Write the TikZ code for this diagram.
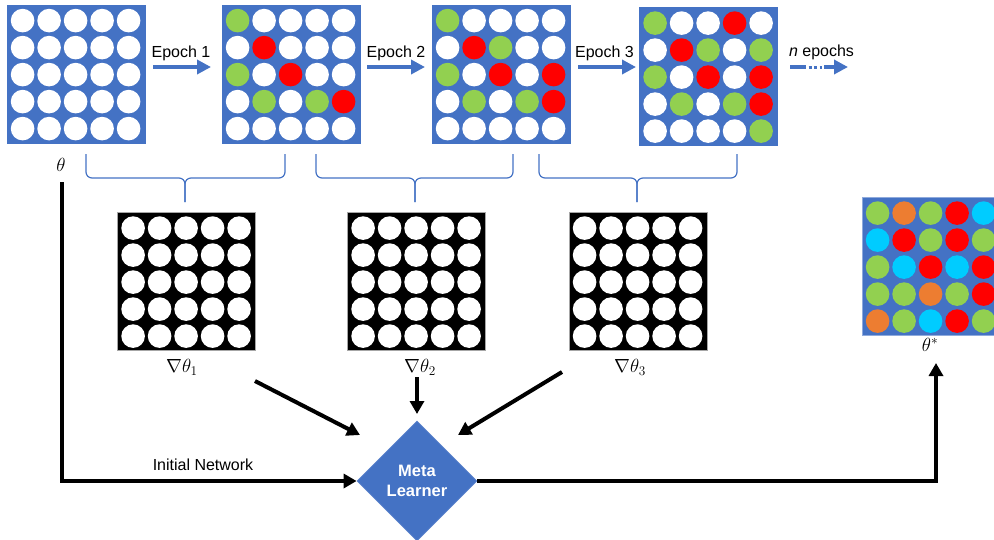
\documentclass[tikz,border=0pt]{standalone}
\usepackage{fix-cm}
\usepackage{fontspec}
\setmainfont{Liberation Sans}
\usetikzlibrary{shapes.geometric,arrows.meta,calc}
\definecolor{mblue}{HTML}{4472C4}
\definecolor{cW}{HTML}{FFFFFF}
\definecolor{cG}{HTML}{92D050}
\definecolor{cR}{HTML}{FF0000}
\definecolor{cC}{HTML}{00CCFF}
\definecolor{cO}{HTML}{ED7D31}
\definecolor{cK}{HTML}{000000}
\newcommand{\dotgrid}[5]{% name, position, background, border, 25 colours
  \node[gridbox,fill=#3,draw=#4] (#1) at #2 {};
  \foreach \cc [count=\i from 0] in {#5} {
    \pgfmathtruncatemacro\gcol{mod(\i,5)}
    \pgfmathtruncatemacro\grow{div(\i,5)}
    \fill[\cc] ($(#1.north west)+(16+26.5*\gcol,16+27*\grow)$) circle[radius=11.8pt];
  }
}
\begin{document}
\begin{tikzpicture}[x=1pt,y=-1pt,
  gridbox/.style={rectangle,minimum width=138pt,minimum height=138pt,inner sep=0pt,line width=0.8pt},
  epocharrow/.style={mblue,line width=4.5pt,-{Triangle[length=14pt,width=14pt]}},
  bigarrow/.style={black,line width=4pt,-{Triangle[length=13pt,width=14pt]}},
  bracestyle/.style={mblue,line width=1.2pt,rounded corners=6pt},
  lbl/.style={font=\fontsize{16}{19}\selectfont,inner sep=0pt},
  mathlbl/.style={font=\fontsize{19}{22}\selectfont,inner sep=0pt},
]
\useasboundingbox (0,0) rectangle (994,539);

% parameter grids
\dotgrid{p0}{(76,74)}{mblue}{mblue}{cW,cW,cW,cW,cW, cW,cW,cW,cW,cW, cW,cW,cW,cW,cW, cW,cW,cW,cW,cW, cW,cW,cW,cW,cW}
\dotgrid{p1}{(291,74)}{mblue}{mblue}{cG,cW,cW,cW,cW, cW,cR,cW,cW,cW, cG,cW,cR,cW,cW, cW,cG,cW,cG,cR, cW,cW,cW,cW,cW}
\dotgrid{p2}{(501,74)}{mblue}{mblue}{cG,cW,cW,cW,cW, cW,cR,cG,cW,cW, cG,cW,cR,cW,cR, cW,cG,cW,cG,cR, cW,cW,cW,cW,cW}
\dotgrid{p3}{(708.5,76.5)}{mblue}{mblue}{cG,cW,cW,cR,cW, cW,cR,cG,cW,cG, cG,cW,cR,cW,cR, cW,cG,cW,cG,cR, cW,cW,cW,cW,cG}

% gradient grids
\dotgrid{g1}{(186.5,281.5)}{cK}{gray!70}{cW,cW,cW,cW,cW, cW,cW,cW,cW,cW, cW,cW,cW,cW,cW, cW,cW,cW,cW,cW, cW,cW,cW,cW,cW}
\dotgrid{g2}{(416.5,281.5)}{cK}{gray!70}{cW,cW,cW,cW,cW, cW,cW,cW,cW,cW, cW,cW,cW,cW,cW, cW,cW,cW,cW,cW, cW,cW,cW,cW,cW}
\dotgrid{g3}{(638,281.5)}{cK}{gray!70}{cW,cW,cW,cW,cW, cW,cW,cW,cW,cW, cW,cW,cW,cW,cW, cW,cW,cW,cW,cW, cW,cW,cW,cW,cW}

% final grid
\dotgrid{pf}{(931,266.5)}{mblue}{mblue!60!white}{cG,cO,cG,cR,cC, cC,cR,cG,cR,cG, cG,cC,cR,cC,cR, cG,cG,cO,cG,cR, cO,cG,cC,cR,cG}

% epoch labels
\node[lbl,anchor=base] (e1) at (181,57) {Epoch 1};
\node[lbl,anchor=base] (e2) at (396,57) {Epoch 2};
\node[lbl,anchor=base] (e3) at (604.5,57) {Epoch 3};
\node[lbl,anchor=base] (en) at (821.5,56) {\textit{n} epochs};

% epoch arrows
\coordinate (a1s) at (153,67); \coordinate (a1e) at (211,67);
\coordinate (a2s) at (367,67); \coordinate (a2e) at (425,67);
\coordinate (a3s) at (578,67); \coordinate (a3e) at (636,67);
\draw[epocharrow] (a1s) -- (a1e);
\draw[epocharrow] (a2s) -- (a2e);
\draw[epocharrow] (a3s) -- (a3e);
\coordinate (n1) at (790,67); \coordinate (n2) at (806,67);
\coordinate (n3) at (808.5,67); \coordinate (n4) at (822,67);
\coordinate (n5) at (824,67); \coordinate (n6) at (848,67);
\draw[mblue,line width=4.5pt] (n1) -- (n2);
\draw[mblue,line width=3pt,dash pattern=on 3pt off 2.5pt] (n3) -- (n4);
\draw[epocharrow] (n5) -- (n6);

% braces
\draw[bracestyle] (86,154) -- (86,178) -- (185,178) -- (185,202);
\draw[bracestyle] (285,154) -- (285,178) -- (185,178) -- (185,202);
\draw[bracestyle] (316,154) -- (316,178) -- (415,178) -- (415,202);
\draw[bracestyle] (513,154) -- (513,178) -- (415,178) -- (415,202);
\draw[bracestyle] (539,154) -- (539,178) -- (637,178) -- (637,202);
\draw[bracestyle] (737,154) -- (737,178) -- (637,178) -- (637,202);

% math labels
\node[mathlbl] (theta) at (61,165) {$\theta$};
\node[mathlbl] (d1) at (182,367) {$\nabla\theta_1$};
\node[mathlbl] (d2) at (420,367) {$\nabla\theta_2$};
\node[mathlbl] (d3) at (630,367) {$\nabla\theta_3$};
\node[mathlbl] (thetastar) at (930,345) {$\theta^*$};

% meta learner
\node[diamond,fill=mblue,draw=mblue!85!white,line width=0.8pt,minimum width=120pt,minimum height=120pt,inner sep=0pt,
      text=white,font=\bfseries\fontsize{16.5}{20}\selectfont,align=center] (ml) at (417,481) {Meta\\Learner};

% connectors
\coordinate (s1) at (255,381); \coordinate (t1) at (360,435);
\coordinate (s2) at (417,377); \coordinate (t2) at (417,414);
\coordinate (s3) at (562,372); \coordinate (t3) at (458,435);
\draw[bigarrow] (s1) -- (t1);
\draw[bigarrow] (s2) -- (t2);
\draw[bigarrow] (s3) -- (t3);

\coordinate (ts) at (62,182);
\draw[bigarrow] (ts) |- (ml.west);
\node[lbl,anchor=base] (init) at (203,470) {Initial Network};

\coordinate (tf) at (936,363);
\draw[bigarrow] (ml.east) -| (tf);
\end{tikzpicture}
\end{document}
